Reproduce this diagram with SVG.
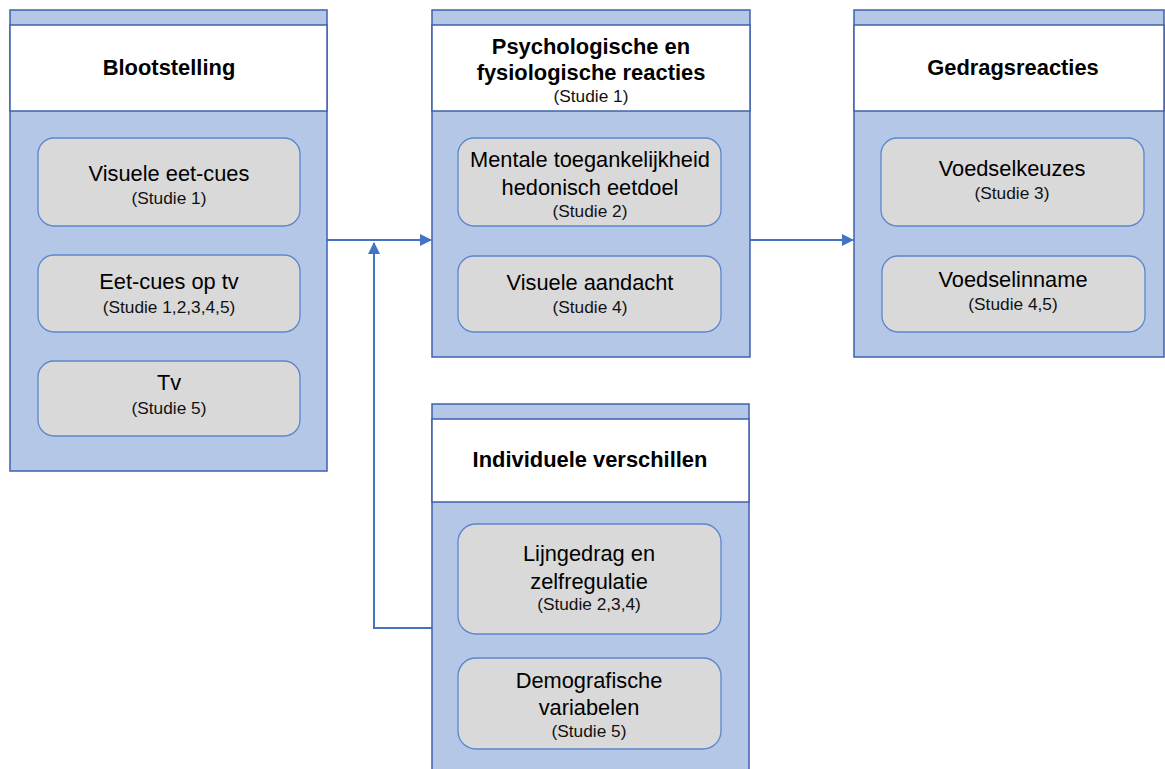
<svg xmlns="http://www.w3.org/2000/svg" width="1165" height="769" viewBox="0 0 1165 769">
<defs>
<style>
.body{fill:#B4C7E7;stroke:#3F62AB;stroke-width:1.5}
.strip{fill:#B4C7E7;stroke:#3F62AB;stroke-width:1.5}
.head{fill:#FFFFFF;stroke:#3F62AB;stroke-width:1.5}
.item{fill:#D9D9D9;stroke:#5B86CC;stroke-width:1.3}
.t{font-family:"Liberation Sans",Arial,sans-serif;fill:#000;text-anchor:middle}
.title{font-size:21.9px;font-weight:bold}
.big{font-size:21.8px}
.small{font-size:17.3px;fill:#111}
.conn{fill:none;stroke:#4472C4;stroke-width:2}
</style>
<marker id="arrBig" viewBox="0 0 12 12" refX="11" refY="6" markerWidth="12" markerHeight="12" markerUnits="userSpaceOnUse" orient="auto">
<path d="M0,0 L12,6 L0,12 z" fill="#4472C4"/>
</marker>
</defs>

<g id="connectors">
<path class="conn" d="M327,240 H431" marker-end="url(#arrBig)"/>
<path class="conn" d="M750,240 H853" marker-end="url(#arrBig)"/>
<path class="conn" d="M432,628 H374 V243" marker-end="url(#arrBig)"/>
</g>

<g id="blootstelling">
<rect class="body" x="10" y="10" width="317" height="461"/>
<rect class="head" x="10" y="25" width="317" height="86"/>
<text class="t title" x="169" y="75">Blootstelling</text>
<g id="visuele-eet-cues">
<rect class="item" x="38" y="138" width="262" height="88" rx="16"/>
<text class="t big" x="169" y="181">Visuele eet-cues</text>
<text class="t small" x="169" y="204">(Studie 1)</text>
</g>
<g id="eet-cues-op-tv">
<rect class="item" x="38" y="255" width="262" height="77" rx="16"/>
<text class="t big" x="169" y="289">Eet-cues op tv</text>
<text class="t small" x="169" y="313">(Studie 1,2,3,4,5)</text>
</g>
<g id="tv">
<rect class="item" x="38" y="361" width="262" height="75" rx="16"/>
<text class="t big" x="169" y="390">Tv</text>
<text class="t small" x="169" y="414">(Studie 5)</text>
</g>
</g>

<g id="psychologische">
<rect class="body" x="432" y="10" width="318" height="347"/>
<rect class="head" x="432" y="25" width="318" height="86"/>
<text class="t title" x="591" y="54">Psychologische en</text>
<text class="t title" x="591" y="80">fysiologische reacties</text>
<text class="t small" x="591" y="102">(Studie 1)</text>
<g id="mentale">
<rect class="item" x="458" y="138" width="263" height="88" rx="16"/>
<text class="t big" x="590" y="167">Mentale toegankelijkheid</text>
<text class="t big" x="590" y="195">hedonisch eetdoel</text>
<text class="t small" x="590" y="217">(Studie 2)</text>
</g>
<g id="visuele-aandacht">
<rect class="item" x="458" y="256" width="263" height="76" rx="16"/>
<text class="t big" x="590" y="290">Visuele aandacht</text>
<text class="t small" x="590" y="313">(Studie 4)</text>
</g>
</g>

<g id="gedragsreacties">
<rect class="body" x="854" y="10" width="310" height="347"/>
<rect class="head" x="854" y="25" width="310" height="86"/>
<text class="t title" x="1013" y="75">Gedragsreacties</text>
<g id="voedselkeuzes">
<rect class="item" x="881" y="138" width="263" height="88" rx="16"/>
<text class="t big" x="1012" y="176">Voedselkeuzes</text>
<text class="t small" x="1012" y="199">(Studie 3)</text>
</g>
<g id="voedselinname">
<rect class="item" x="882" y="256" width="263" height="76" rx="16"/>
<text class="t big" x="1013" y="287">Voedselinname</text>
<text class="t small" x="1013" y="310">(Studie 4,5)</text>
</g>
</g>

<g id="individuele-verschillen">
<rect class="body" x="432" y="404" width="317" height="380"/>
<rect class="head" x="432" y="419" width="317" height="83"/>
<text class="t title" x="590" y="467">Individuele verschillen</text>
<g id="lijngedrag">
<rect class="item" x="458" y="524" width="263" height="110" rx="18"/>
<text class="t big" x="589" y="561">Lijngedrag en</text>
<text class="t big" x="589" y="589">zelfregulatie</text>
<text class="t small" x="589" y="610">(Studie 2,3,4)</text>
</g>
<g id="demografische">
<rect class="item" x="458" y="658" width="263" height="91" rx="18"/>
<text class="t big" x="589" y="688">Demografische</text>
<text class="t big" x="589" y="715">variabelen</text>
<text class="t small" x="589" y="737">(Studie 5)</text>
</g>
</g>
</svg>
